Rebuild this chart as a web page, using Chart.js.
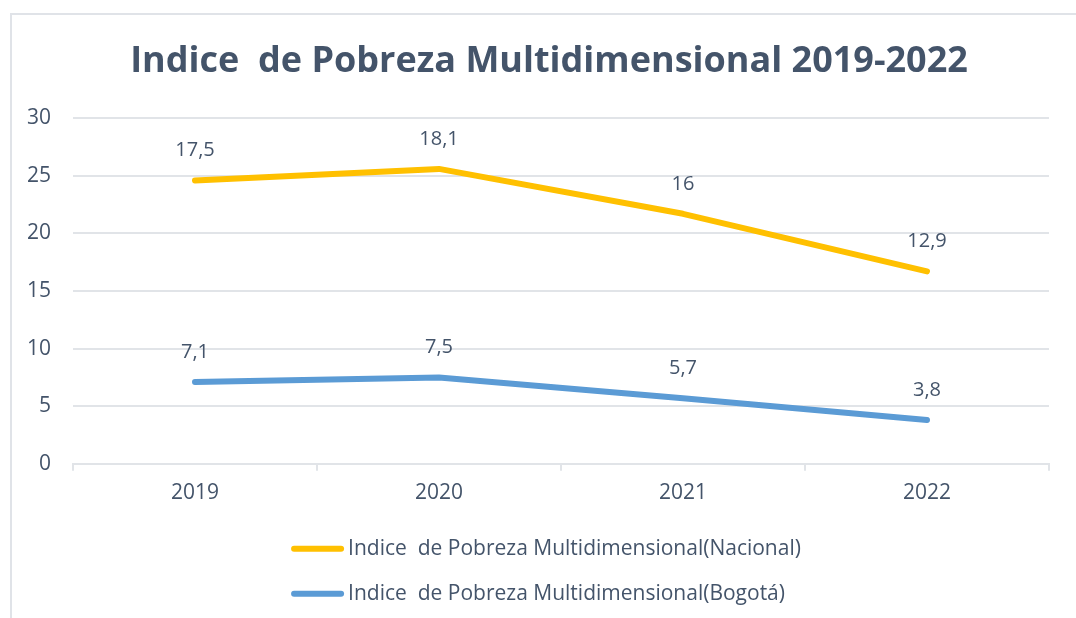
<!DOCTYPE html>
<html lang="es">
<head>
<meta charset="utf-8">
<script src="https://cdn.jsdelivr.net/npm/chart.js@4.4.1/dist/chart.umd.min.js"></script>
<style>
  html, body { margin: 0; padding: 0; background: #fff; overflow: hidden; }
  body { width: 1076px; height: 618px; position: relative; }
  #marco { position: absolute; left: 10px; top: 13px; width: 1100px; height: 640px; border: 2px solid #E0E3E8; box-sizing: border-box; }
  #caja { position: absolute; left: 0; top: 0; width: 1098px; height: 618px; }
</style>
</head>
<body>
<div id="marco"></div>
<div id="caja"><canvas id="graficoPobreza"></canvas></div>
<script>
const anios = ['2019', '2020', '2021', '2022'];
const nacional = [17.5, 18.1, 16, 12.9];
const bogota = [7.1, 7.5, 5.7, 3.8];
const nombreNacional = 'Indice  de Pobreza Multidimensional(Nacional)';
const nombreBogota = 'Indice  de Pobreza Multidimensional(Bogotá)';
const ticksY = [0, 5, 10, 15, 20, 25, 30];

const colorTexto = '#44546A';
const colorGrilla = '#E1E4E8';
const fuente = '"Open Sans", "Noto Sans", sans-serif';

// formato con coma decimal
const formato = v => String(v).replace('.', ',');

// Etiquetas de datos encima de cada punto
const etiquetas = {
  id: 'etiquetas',
  afterDatasetsDraw(chart) {
    const ctx = chart.ctx;
    ctx.save();
    ctx.font = '20px ' + fuente;
    ctx.fillStyle = colorTexto;
    ctx.textAlign = 'center';
    ctx.textBaseline = 'middle';
    chart.data.datasets.forEach((ds, i) => {
      chart.getDatasetMeta(i).data.forEach((pt, j) => {
        ctx.fillText(formato(ds.data[j]), pt.x, pt.y - 30);
      });
    });
    ctx.restore();
  }
};

// Leyenda en dos filas, alineada a la izquierda como en Excel
const leyenda = {
  id: 'leyenda',
  afterDraw(chart) {
    const ctx = chart.ctx;
    const orden = [1, 0];
    const muestra = 53;
    ctx.save();
    ctx.font = '21px ' + fuente;
    const anchoMax = Math.max(...orden.map(i => ctx.measureText(chart.data.datasets[i].label).width));
    const x0 = 546 - (muestra + 4 + anchoMax) / 2;
    orden.forEach((i, fila) => {
      const ds = chart.data.datasets[i];
      const y = chart.chartArea.bottom + 85 + fila * 45;
      ctx.strokeStyle = ds.borderColor;
      ctx.lineWidth = 6;
      ctx.lineCap = 'round';
      ctx.beginPath();
      ctx.moveTo(x0 + 3, y);
      ctx.lineTo(x0 + muestra - 3, y);
      ctx.stroke();
      ctx.fillStyle = colorTexto;
      ctx.textAlign = 'left';
      ctx.textBaseline = 'middle';
      ctx.fillText(ds.label, x0 + muestra + 4, y);
    });
    ctx.restore();
  }
};

new Chart(document.getElementById('graficoPobreza'), {
  type: 'line',
  data: {
    labels: anios,
    datasets: [{
      label: nombreBogota,
      data: bogota,
      borderColor: '#5B9BD5',
      backgroundColor: '#5B9BD5',
      borderWidth: 6,
      borderCapStyle: 'round',
      borderJoinStyle: 'round',
      pointRadius: 0,
      tension: 0,
      fill: false
    }, {
      label: nombreNacional,
      data: nacional,
      borderColor: '#FFC000',
      backgroundColor: '#FFC000',
      borderWidth: 6,
      borderCapStyle: 'round',
      borderJoinStyle: 'round',
      pointRadius: 0,
      tension: 0,
      fill: false
    }]
  },
  options: {
    responsive: true,
    maintainAspectRatio: false,
    animation: false,
    layout: { padding: { left: 0, right: 0, top: 0, bottom: 102 } },
    plugins: {
      legend: { display: false },
      tooltip: { enabled: false },
      title: {
        display: true,
        text: 'Indice  de Pobreza Multidimensional 2019-2022',
        color: colorTexto,
        font: { family: fuente, size: 36, weight: 'bold' },
        padding: { top: 40, bottom: 35 }
      }
    },
    scales: {
      x: {
        offset: true,
        grid: { offset: true, drawOnChartArea: false, color: colorGrilla, lineWidth: 2, tickLength: 7 },
        border: { color: colorGrilla, width: 2 },
        ticks: { color: colorTexto, font: { family: fuente, size: 21 }, padding: 10 }
      },
      y: {
        stacked: true,
        min: 0,
        max: 30,
        afterBuildTicks: scale => { scale.ticks = ticksY.map(v => ({ value: v })); },
        afterFit: scale => { scale.width = 73; },
        grid: { color: colorGrilla, lineWidth: 2, drawTicks: false },
        border: { display: false },
        ticks: { color: colorTexto, font: { family: fuente, size: 21 }, padding: 22 }
      },
      // margen derecho vacío, deja el título centrado en el marco
      margen: {
        position: 'right',
        min: 0,
        max: 30,
        afterFit: scale => { scale.width = 49; },
        grid: { display: false },
        border: { display: false },
        ticks: { display: false }
      }
    }
  },
  plugins: [etiquetas, leyenda]
});
</script>
</body>
</html>
